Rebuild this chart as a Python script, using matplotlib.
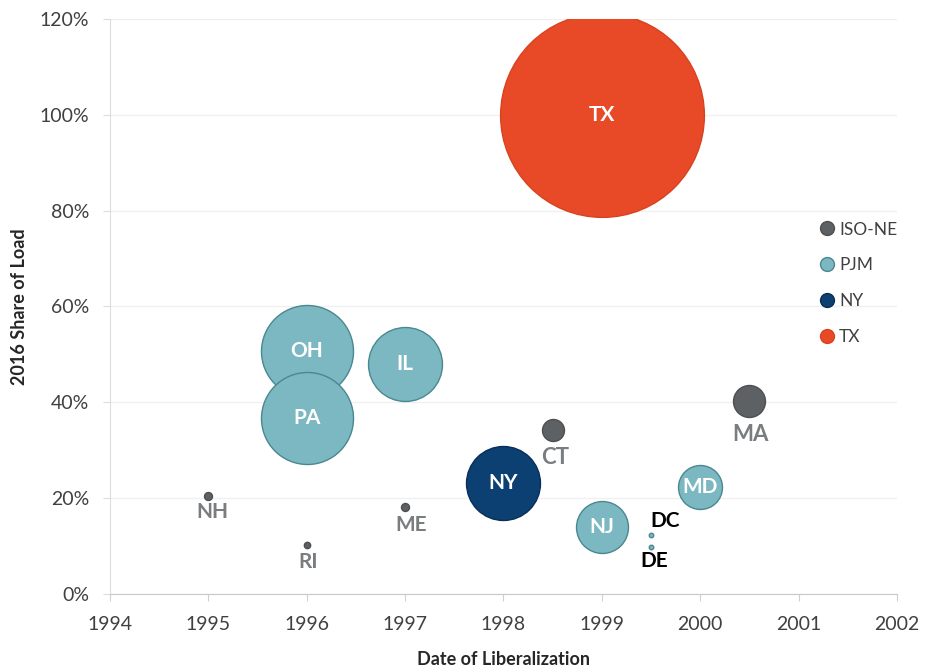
import matplotlib.pyplot as plt
from matplotlib.lines import Line2D

plt.rcParams['font.family'] = ['Lato', 'DejaVu Sans']

# data
states = ['TX', 'OH', 'PA', 'IL', 'NY', 'CT', 'NJ', 'MD', 'MA', 'DC', 'DE', 'NH', 'RI', 'ME']
regions = ['TX', 'PJM', 'PJM', 'PJM', 'NY', 'ISO-NE', 'PJM', 'PJM', 'ISO-NE', 'PJM', 'PJM',
           'ISO-NE', 'ISO-NE', 'ISO-NE']
year = [1999, 1996, 1996, 1997, 1998, 1998.5, 1999, 2000, 2000.5, 1999.5, 1999.5, 1995, 1996, 1997]
share = [1.00, 0.507, 0.367, 0.48, 0.232, 0.342, 0.14, 0.223, 0.403, 0.123, 0.098, 0.205, 0.102, 0.182]
bubble = [10400, 2120, 2120, 1370, 1370, 121, 676, 484, 256, 5, 5, 16, 10, 16]

legend_order = ['ISO-NE', 'PJM', 'NY', 'TX']
face = {'ISO-NE': '#5e6163', 'PJM': '#7bb8c1', 'NY': '#0c3f72', 'TX': '#e84926'}
edge = {'ISO-NE': '#4d5052', 'PJM': '#4a8790', 'NY': '#082f57', 'TX': '#d8431f'}

# label placement: inside bubble, or offset in points from the centre
inside = {'TX', 'OH', 'PA', 'IL', 'NY', 'NJ', 'MD'}
offsets = {'CT': (2, -20), 'MA': (1, -24), 'DC': (10, 10), 'DE': (2, -10),
           'NH': (3, -12), 'RI': (1, -12), 'ME': (4, -13)}

fig = plt.figure(figsize=(9.25, 6.71), dpi=100)
ax = fig.add_axes([0.1189, 0.1148, 0.8508, 0.8569])

for i, st in enumerate(states):
    r = regions[i]
    ax.scatter(year[i], share[i], s=bubble[i] * 2.07, c=face[r], edgecolors=edge[r],
               linewidths=1.0, zorder=3)
    if st in inside:
        ax.text(year[i], share[i], st, color='white', fontsize=15, fontweight='bold',
                ha='center', va='center', zorder=4)
    elif st in ('DC', 'DE'):
        ax.annotate(st, (year[i], share[i]), xytext=offsets[st], textcoords='offset points',
                    ha='center', va='center', fontsize=15, fontweight='bold', color='black',
                    zorder=4)
    else:
        fs = 16 if st in ('CT', 'MA') else 15
        ax.annotate(st, (year[i], share[i]), xytext=offsets[st], textcoords='offset points',
                    ha='center', va='center', fontsize=fs, fontweight='bold',
                    color='#7a7d80', zorder=4)

ax.set_xlim(1994, 2002)
ax.set_ylim(0, 1.2)
ax.set_xticks(range(1994, 2003))
ax.set_yticks([0, 0.2, 0.4, 0.6, 0.8, 1.0, 1.2])
ax.set_yticklabels([f'{int(round(v * 100))}%' for v in ax.get_yticks()])
ax.tick_params(labelsize=14, colors='#404040', length=5)
ax.tick_params(axis='x', color='#d0d0d0', pad=11)
ax.tick_params(axis='y', color='#dddddd', pad=10)
ax.grid(axis='y', color='#f0f0f0', linewidth=1)
ax.set_axisbelow(True)
for s in ['top', 'right']:
    ax.spines[s].set_visible(False)
ax.spines['left'].set_color('#dddddd')
ax.spines['bottom'].set_color('#c8c8c8')

ax.set_xlabel('Date of Liberalization', fontsize=13, fontweight='bold', color='#262626',
              labelpad=13)
ax.set_ylabel('2016 Share of Load', fontsize=13, fontweight='bold', color='#262626',
              labelpad=8)

handles = [Line2D([], [], marker='o', linestyle='', markersize=10, markerfacecolor=face[r],
                  markeredgecolor=edge[r], label=r) for r in legend_order]
ax.legend(handles=handles, loc='center left', bbox_to_anchor=(0.878, 0.54), frameon=False,
          fontsize=12.5, labelcolor='#404040', handletextpad=0.1, labelspacing=1.15,
          handlelength=1.2)

fig.savefig('out.png', dpi=100)
